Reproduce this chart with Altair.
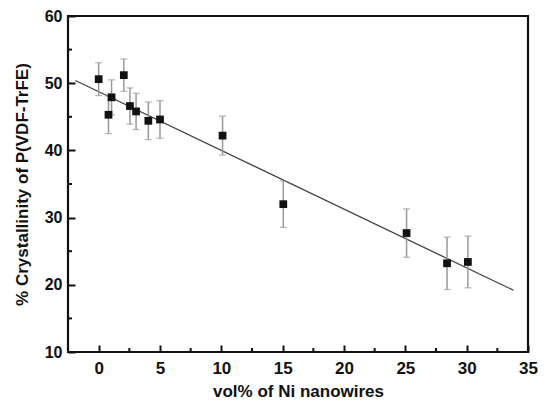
import altair as alt
import pandas as pd

# data
vol = [0, 0.8, 1.05, 2.05, 2.55, 3.05, 4.05, 5.0, 10.1, 15.05, 25.1, 28.4, 30.1]
cryst = [50.6, 45.3, 47.9, 51.2, 46.6, 45.8, 44.4, 44.6, 42.2, 32.0, 27.7, 23.2, 23.4]
err = [2.45, 2.8, 2.6, 2.4, 2.7, 2.7, 2.8, 2.8, 2.9, 3.45, 3.6, 3.9, 3.85]
fit_x = [-1.9, 33.8]
fit_y = [50.4, 19.2]
x_major = [0, 5, 10, 15, 20, 25, 30, 35]
x_minor = [2.5, 7.5, 12.5, 17.5, 22.5, 27.5, 32.5]
y_major = [10, 20, 30, 40, 50, 60]
y_minor = [15, 25, 35, 45, 55]

W, H = 460, 336
FONT = "Liberation Sans"
INK = "#111"

df = pd.DataFrame({"vol": vol, "cryst": cryst, "err": err})
df["lo"] = df["cryst"] - df["err"]
df["hi"] = df["cryst"] + df["err"]
fit = pd.DataFrame({"vol": fit_x, "cryst": fit_y})

xs = alt.Scale(domain=[-2.5, 35], nice=False, zero=False)
ys = alt.Scale(domain=[10, 60], nice=False, zero=False)

# inward major ticks drawn by the axes themselves
xaxis = alt.Axis(values=x_major, ticks=True, tickSize=alt.ExprRef("-7"), tickWidth=2,
                 tickColor=INK, domain=False, grid=False,
                 labelFont=FONT, labelFontSize=17, labelFontWeight="bold",
                 labelColor=INK, labelPadding=15, labelFlush=False,
                 title="vol% of Ni nanowires", titleFont=FONT, titleFontSize=17,
                 titleFontWeight="bold", titleColor=INK, titlePadding=7)
yaxis = alt.Axis(values=y_major, ticks=True, tickSize=alt.ExprRef("-7"), tickWidth=2,
                 tickColor=INK, domain=False, grid=False,
                 labelFont=FONT, labelFontSize=16, labelFontWeight="bold",
                 labelColor=INK, labelPadding=13, labelFlush=False,
                 title="% Crystallinity of P(VDF-TrFE)", titleFont=FONT, titleFontSize=17,
                 titleFontWeight="bold", titleColor=INK, titlePadding=13)

base = alt.Chart(df)

points = base.mark_square(size=60, color=INK, opacity=1).encode(
    x=alt.X("vol:Q", scale=xs, axis=xaxis),
    y=alt.Y("cryst:Q", scale=ys, axis=yaxis),
)
bars = base.mark_rule(color="#999", strokeWidth=1.5).encode(
    x=alt.X("vol:Q", scale=xs, axis=xaxis), y=alt.Y("lo:Q", scale=ys, axis=yaxis), y2="hi:Q")
cap_lo = base.mark_tick(color="#999", orient="horizontal", size=7, thickness=1.2).encode(
    x=alt.X("vol:Q", scale=xs, axis=xaxis), y=alt.Y("lo:Q", scale=ys, axis=yaxis))
cap_hi = base.mark_tick(color="#999", orient="horizontal", size=7, thickness=1.2).encode(
    x=alt.X("vol:Q", scale=xs, axis=xaxis), y=alt.Y("hi:Q", scale=ys, axis=yaxis))

line = alt.Chart(fit).mark_line(color="#444", strokeWidth=1.3).encode(
    x=alt.X("vol:Q", scale=xs, axis=xaxis), y=alt.Y("cryst:Q", scale=ys, axis=yaxis))

def xticks(vals, length):
    return alt.Chart(pd.DataFrame({"t": vals})).mark_rule(
        color=INK, strokeWidth=2, opacity=1).encode(
        x=alt.X("t:Q", scale=xs, axis=xaxis),
        y=alt.value(H), y2=alt.value(H - length))

def yticks(vals, length):
    return alt.Chart(pd.DataFrame({"t": vals})).mark_rule(
        color=INK, strokeWidth=2, opacity=1).encode(
        y=alt.Y("t:Q", scale=ys, axis=yaxis),
        x=alt.value(0), x2=alt.value(length))

frame = alt.Chart(pd.DataFrame({"k": [0]})).mark_rect(
    fill=None, stroke=INK, strokeWidth=2.2).encode(
    x=alt.value(0), x2=alt.value(W), y=alt.value(0), y2=alt.value(H))

chart = alt.layer(
    line, bars, cap_lo, cap_hi, points, frame,
    xticks(x_minor, 4), yticks(y_minor, 4),
).properties(
    width=W, height=H,
    background="white",
    autosize=alt.AutoSizeParams(type="none"),
    padding={"left": 60, "top": 8, "right": 10, "bottom": 50},
).configure_view(stroke=None)

chart.save("out.html", embed_options={"renderer": "svg", "actions": False})
